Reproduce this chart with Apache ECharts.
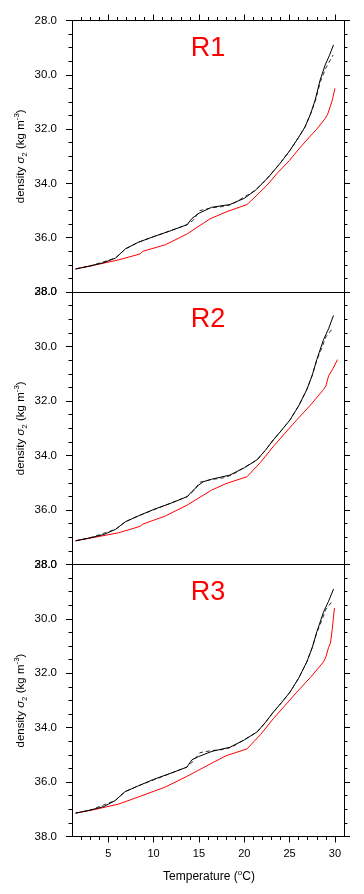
<!DOCTYPE html>
<html><head><meta charset="utf-8">
<script src="https://cdn.jsdelivr.net/npm/echarts@6/dist/echarts.min.js"></script>
<style>html,body{margin:0;padding:0;background:#fff}#c{width:364px;height:894px}</style>
</head><body><div id="c"></div>
<script>
const panelNames = ['R1', 'R2', 'R3'];
const xMajorTicks = [5, 10, 15, 20, 25, 30];
const xMinorTicks = [2,3,4,6,7,8,9,11,12,13,14,16,17,18,19,21,22,23,24,26,27,28,29];
const yRange = [28, 38];
const xRange = [1, 31];

// R1
const r1BlackT = [1.4, 3.0, 4.5, 5.8, 6.9, 8.3, 10.0, 12.0, 13.7, 14.2, 15.0, 16.4, 18.4, 20.0, 21.2, 22.0, 22.85, 24.0, 25.05, 26.0, 26.7, 27.3, 27.82, 28.37, 28.92, 29.4, 29.84];
const r1BlackS = [37.15, 37.04, 36.92, 36.75, 36.41, 36.17, 35.96, 35.73, 35.52, 35.30, 35.10, 34.88, 34.78, 34.55, 34.26, 34.00, 33.70, 33.24, 32.78, 32.30, 31.92, 31.45, 30.93, 30.19, 29.64, 29.28, 28.90];
const r1DashT = [1.4, 3.0, 5.8, 6.9, 8.3, 13.7, 14.4, 15.1, 16.4, 17.7, 18.6, 21.2, 22.0, 22.85, 24.0, 25.05, 26.0, 26.7, 27.3, 27.82, 28.4, 29.0, 29.8];
const r1DashS = [37.15, 37.04, 36.75, 36.41, 36.17, 35.52, 35.35, 35.00, 34.90, 34.85, 34.78, 34.26, 34.00, 33.70, 33.24, 32.78, 32.30, 31.92, 31.45, 30.98, 30.25, 29.75, 29.27];
const r1RedT = [1.4, 3.2, 6.1, 8.5, 8.8, 11.3, 13.7, 16.2, 18.0, 20.3, 21.5, 22.5, 23.6, 25.0, 26.2, 27.3, 28.0, 28.9, 29.2, 29.7, 30.0];
const r1RedS = [37.15, 37.03, 36.82, 36.60, 36.50, 36.26, 35.86, 35.31, 35.05, 34.78, 34.40, 34.07, 33.64, 33.15, 32.66, 32.25, 32.00, 31.62, 31.45, 30.95, 30.50];

// R2
const r2BlackT = [1.4, 3.0, 4.5, 5.8, 6.9, 8.3, 10.0, 12.0, 13.7, 14.2, 15.0, 15.5, 16.4, 18.4, 20.0, 21.4, 22.3, 23.2, 24.1, 25.05, 26.0, 26.9, 27.5, 28.0, 28.74, 29.3, 29.84];
const r2BlackS = [37.13, 37.02, 36.90, 36.71, 36.43, 36.22, 35.98, 35.74, 35.51, 35.33, 35.08, 34.96, 34.87, 34.72, 34.45, 34.16, 33.82, 33.43, 33.08, 32.69, 32.18, 31.58, 31.05, 30.48, 29.75, 29.35, 28.86];
const r2DashT = [1.4, 3.0, 5.8, 6.9, 8.3, 13.7, 14.4, 15.1, 16.4, 17.7, 18.6, 21.4, 22.3, 23.2, 24.1, 25.05, 26.0, 26.9, 27.5, 28.0, 28.5, 29.0, 29.8];
const r2DashS = [37.13, 37.02, 36.71, 36.43, 36.22, 35.51, 35.30, 34.98, 34.88, 34.82, 34.72, 34.16, 33.82, 33.43, 33.08, 32.69, 32.18, 31.58, 31.05, 30.50, 30.10, 29.65, 29.31];
const r2RedT = [1.4, 3.2, 6.1, 8.5, 8.8, 11.3, 13.7, 16.4, 18.0, 20.3, 21.8, 23.2, 24.5, 25.8, 27.3, 28.74, 29.0, 29.3, 29.8, 30.28];
const r2RedS = [37.13, 37.02, 36.84, 36.60, 36.52, 36.22, 35.82, 35.27, 35.03, 34.78, 34.25, 33.67, 33.18, 32.69, 32.15, 31.58, 31.45, 31.08, 30.80, 30.48];

// R3
const r3BlackT = [1.4, 3.0, 4.5, 5.75, 6.86, 8.3, 10.0, 12.0, 13.67, 14.23, 14.97, 16.44, 18.4, 20.0, 21.4, 22.3, 23.2, 24.1, 25.05, 26.0, 26.9, 27.5, 28.0, 28.74, 29.3, 29.85];
const r3BlackS = [37.14, 37.03, 36.90, 36.68, 36.35, 36.14, 35.90, 35.66, 35.45, 35.18, 35.06, 34.87, 34.72, 34.45, 34.16, 33.82, 33.43, 33.08, 32.69, 32.18, 31.58, 31.05, 30.48, 29.75, 29.35, 28.90];
const r3DashT = [1.4, 3.0, 5.75, 6.86, 8.3, 13.67, 14.4, 15.1, 16.4, 17.7, 18.6, 21.4, 22.3, 23.2, 24.1, 25.05, 26.0, 26.9, 27.5, 28.0, 28.5, 29.0, 29.8];
const r3DashS = [37.14, 37.03, 36.68, 36.35, 36.14, 35.45, 35.22, 34.92, 34.84, 34.80, 34.72, 34.16, 33.82, 33.43, 33.08, 32.69, 32.18, 31.58, 31.05, 30.50, 30.10, 29.65, 29.31];
const r3RedT = [1.4, 3.2, 6.13, 8.7, 11.3, 13.67, 16.44, 18.0, 20.3, 21.8, 23.2, 24.5, 25.8, 27.3, 28.74, 29.0, 29.3, 29.5, 29.7, 29.85, 29.95];
const r3RedS = [37.14, 37.03, 36.81, 36.50, 36.18, 35.79, 35.30, 35.03, 34.78, 34.25, 33.67, 33.18, 32.69, 32.15, 31.58, 31.40, 31.05, 30.90, 30.40, 29.90, 29.60];

const panelData = [
  {black: [r1BlackT, r1BlackS], dash: [r1DashT, r1DashS], red: [r1RedT, r1RedS]},
  {black: [r2BlackT, r2BlackS], dash: [r2DashT, r2DashS], red: [r2RedT, r2RedS]},
  {black: [r3BlackT, r3BlackS], dash: [r3DashT, r3DashS], red: [r3RedT, r3RedS]}
];

const FONT = 'Liberation Sans, Arial, Helvetica, sans-serif';
const gridTops = [20.5, 292, 564.5];
const gridHeights = [271.5, 272.5, 272];
const gridLeft = 72, gridWidth = 272;

function pts(arr) { return arr[0].map((t, i) => [t, arr[1][i]]); }

const grids = [], xAxes = [], yAxes = [], series = [], graphics = [];
const lineCol = '#000';
for (let g = 0; g < 3; g++) {
  grids.push({left: gridLeft, top: gridTops[g], width: gridWidth, height: gridHeights[g], containLabel: false});
  const isLast = g === 2;
  const baseX = {
    type: 'value', gridIndex: g, min: xRange[0], max: xRange[1],
    splitLine: {show: false},
    axisLine: {show: true, onZero: false, lineStyle: {color: lineCol, width: 1}}
  };
  xAxes.push(Object.assign({}, baseX, {
    position: 'bottom',
    axisTick: {show: isLast, length: 6, inside: false, customValues: xMajorTicks, lineStyle: {color: lineCol}},
    axisLabel: {show: isLast, customValues: xMajorTicks, margin: 12, color: '#000', fontSize: 11, fontFamily: FONT}
  }));
  xAxes.push(Object.assign({}, baseX, {
    position: 'bottom',
    axisLine: {show: false, onZero: false},
    axisTick: {show: isLast, length: 3.5, inside: false, customValues: xMinorTicks, lineStyle: {color: lineCol}},
    axisLabel: {show: false}
  }));
  xAxes.push(Object.assign({}, baseX, {
    position: 'top',
    axisTick: {show: g === 0, length: 6, inside: false, customValues: xMajorTicks, lineStyle: {color: lineCol}},
    axisLabel: {show: false}
  }));
  xAxes.push(Object.assign({}, baseX, {
    position: 'top',
    axisLine: {show: false, onZero: false},
    axisTick: {show: g === 0, length: 3.5, inside: false, customValues: xMinorTicks, lineStyle: {color: lineCol}},
    axisLabel: {show: false}
  }));
  const baseY = {
    type: 'value', gridIndex: g, min: yRange[0], max: yRange[1], interval: 2, inverse: true,
    splitLine: {show: false}, minorSplitLine: {show: false},
    axisLine: {show: true, onZero: false, lineStyle: {color: lineCol, width: 1}},
    axisTick: {show: true, length: 6, inside: false, lineStyle: {color: lineCol}},
    minorTick: {show: true, splitNumber: 4, length: 3.5, lineStyle: {color: lineCol}}
  };
  yAxes.push(Object.assign({}, baseY, {
    position: 'left',
    axisLabel: {show: true, showMinLabel: true, showMaxLabel: true, margin: 15, color: '#000', fontSize: 11.5, fontFamily: FONT,
      formatter: v => v.toFixed(1)}
  }));
  yAxes.push(Object.assign({}, baseY, {position: 'right', axisLabel: {show: false}}));

  const d = panelData[g];
  const common = {type: 'line', xAxisIndex: 4 * g, yAxisIndex: 2 * g, showSymbol: false, silent: true, smooth: false};
  series.push(Object.assign({}, common, {data: pts(d.red), lineStyle: {color: '#ff0000', width: 1}, z: 2}));
  series.push(Object.assign({}, common, {data: pts(d.black), lineStyle: {color: '#000', width: 1}, z: 3}));
  series.push(Object.assign({}, common, {data: pts(d.dash), lineStyle: {color: '#000', width: 0.8, type: [4, 3]}, z: 4}));

  const midY = gridTops[g] + gridHeights[g] / 2;
  graphics.push({
    type: 'text', x: 21, y: midY, rotation: Math.PI / 2,
    style: {
      text: '{a|density }{s|σ}{sub|2}{a| (kg m}{sup|-3}{a|)}',
      align: 'center', verticalAlign: 'middle', fill: '#000',
      rich: {
        a: {fontSize: 11.5, fontFamily: FONT, lineHeight: 16, fill: '#000'},
        s: {fontSize: 11.5, fontFamily: FONT, fontStyle: 'italic', lineHeight: 16, fill: '#000'},
        sub: {fontSize: 8, fontFamily: FONT, verticalAlign: 'bottom', lineHeight: 16, fill: '#000'},
        sup: {fontSize: 8, fontFamily: FONT, verticalAlign: 'top', lineHeight: 16, fill: '#000'}
      }
    }
  });
  graphics.push({
    type: 'text', x: 208, y: gridTops[g] + 28,
    style: {text: panelNames[g], align: 'center', verticalAlign: 'middle', fill: '#ff0000', fontSize: 27, fontFamily: FONT}
  });
}
graphics.push({
  type: 'text', x: 209, y: 877,
  style: {
    text: '{a|Temperature (}{sup|o}{a|C)}', align: 'center', verticalAlign: 'middle',
    rich: {
      a: {fontSize: 12, fontFamily: FONT, lineHeight: 16, fill: '#000'},
      sup: {fontSize: 8, fontFamily: FONT, verticalAlign: 'top', lineHeight: 16, fill: '#000'}
    }
  }
});

const chart = echarts.init(document.getElementById('c'), null, {renderer: 'canvas'});
chart.setOption({
  animation: false,
  backgroundColor: '#fff',
  grid: grids, xAxis: xAxes, yAxis: yAxes, series: series, graphic: graphics
});
</script></body></html>
